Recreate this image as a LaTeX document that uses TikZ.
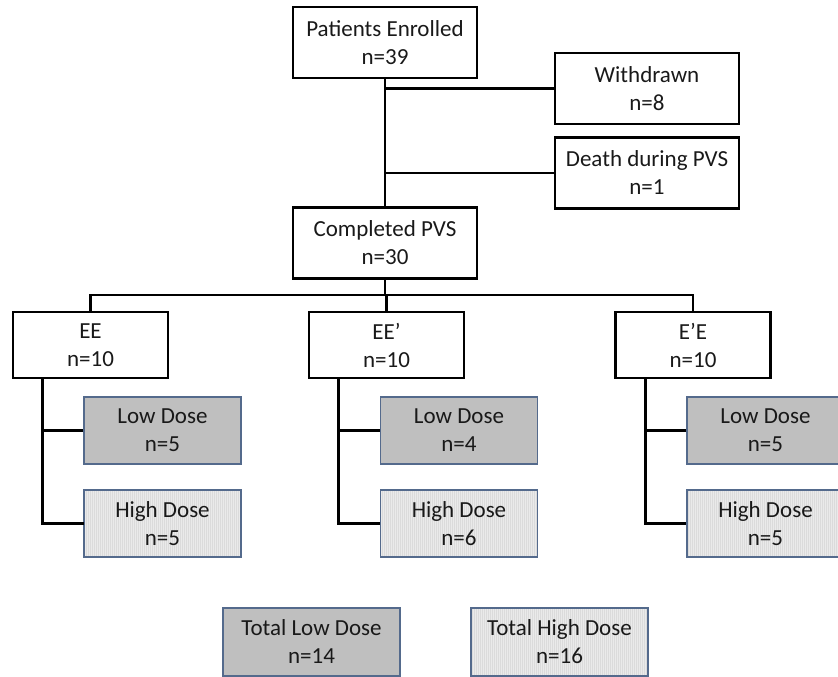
\documentclass[tikz,border=0pt]{standalone}
\usepackage{fontspec}
\setmainfont{Carlito}
\usetikzlibrary{positioning, patterns.meta}
\definecolor{lowfill}{RGB}{191,191,191}
\definecolor{highfill}{RGB}{234,234,234}
\definecolor{doseline}{RGB}{84,106,140}

\begin{document}
\begin{tikzpicture}[
    node distance=100pt,
    on grid,
    every node/.style={font=\fontsize{23}{28}\selectfont, align=center, inner sep=0pt, text=black!90},
    box/.style={draw=black, line width=2.8pt, minimum width=184pt, minimum height=71pt},
    arm/.style={draw=black, line width=2.8pt, minimum width=155pt, minimum height=66pt},
    lowbox/.style={draw=doseline, line width=1.2pt, fill=lowfill, minimum width=157pt, minimum height=67pt},
    highbox/.style={draw=doseline, line width=1.2pt, preaction={fill=highfill},
        pattern={Lines[angle=90, distance=2pt, line width=0.4pt]}, pattern color=black!14,
        minimum width=157pt, minimum height=67pt},
    total/.style={minimum width=177pt, minimum height=68pt},
    link/.style={line width=2.8pt}
]
   \useasboundingbox (0,0) rectangle (838pt,-677pt);

   % Screening
   \node[box] (enrolled) at (385pt,-42.5pt) {Patients Enrolled\\n=39};
   \node[box, below right=46pt and 262pt of enrolled] (withdrawn) {Withdrawn\\n=8};
   \node[box, below=84.5pt of withdrawn] (death) {Death during PVS\\n=1};
   \node[box, below=200.5pt of enrolled] (completed) {Completed PVS\\n=30};

   % Arms
   \node[arm, below right=102pt and 1.5pt of completed] (eep) {EE’\\n=10};
   \node[arm, left=296pt of eep] (ee) {EE\\n=10};
   \node[arm, right=306.5pt of eep] (epe) {E’E\\n=10};

   % Doses
   \node[lowbox, below right=85.5pt and 72pt of ee] (ee-low) {Low Dose\\n=5};
   \node[highbox, below=93pt of ee-low] (ee-high) {High Dose\\n=5};
   \node[lowbox, below right=85.5pt and 72.5pt of eep] (eep-low) {Low Dose\\n=4};
   \node[highbox, below=93pt of eep-low] (eep-high) {High Dose\\n=6};
   \node[lowbox, below right=85.5pt and 72.5pt of epe] (epe-low) {Low Dose\\n=5};
   \node[highbox, below=93pt of epe-low] (epe-high) {High Dose\\n=5};

   % Totals
   \node[lowbox, total, below right=118.5pt and 149pt of ee-high] (tot-low) {Total Low Dose\\n=14};
   \node[highbox, total, right=248pt of tot-low] (tot-high) {Total High Dose\\n=16};

   % Connectors
   \draw[link] (enrolled) -- (completed);
   \draw[link] (withdrawn.west) -- (withdrawn.west -| enrolled.south);
   \draw[link] (death.west) -- (death.west -| enrolled.south);

   \coordinate[below=15pt of completed.south] (split);
   \draw[link] (completed) -- (split);
   \draw[link] (ee.north) |- (split) -| (epe.north);
   \draw[link] (eep.north) -- (eep.north |- split);

   \foreach \g in {ee, eep, epe} {
      \coordinate (\g-fork) at ([xshift=31pt]\g.south west);
      \draw[link] (\g-fork) |- (\g-high.west);
      \draw[link] (\g-low.west) -- (\g-low.west -| \g-fork);
   }

\end{tikzpicture}
\end{document}
